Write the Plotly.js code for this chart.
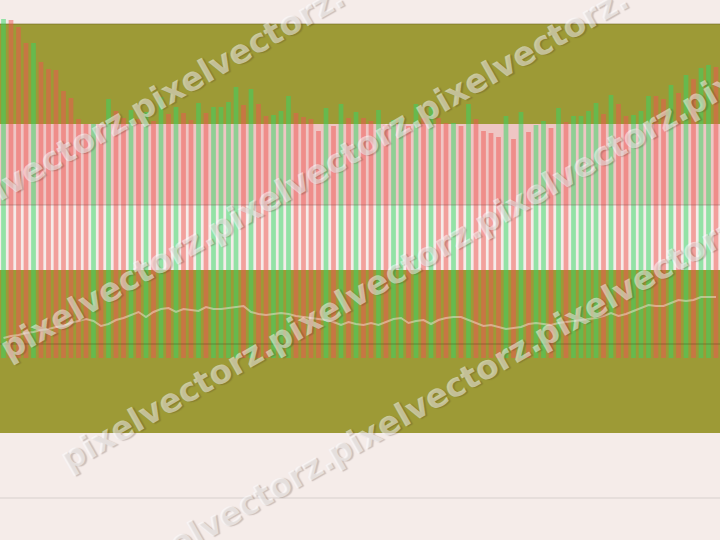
<!DOCTYPE html>
<html><head><meta charset="utf-8">
<script src="https://cdn.plot.ly/plotly-3.0.1.min.js"></script>
<style>html,body{margin:0;padding:0;background:#f5ece9;}</style>
</head><body><div id="chart" style="width:720px;height:540px;"></div>
<script>
// Volume per session
const volumes = [3390,3380,3310,3150,3150,2960,2890,2880,2670,2600,
 2390,2340,2340,2330,2590,2470,2400,2480,2390,2460,
 2370,2610,2440,2510,2450,2380,2550,2450,2510,2510,
 2560,2710,2530,2690,2540,2420,2430,2470,2620,2450,
 2410,2390,2270,2500,2320,2540,2400,2460,2400,2370,
 2480,2330,2380,2400,2320,2540,2400,2510,2400,2350,
 2350,2320,2540,2390,2270,2250,2210,2420,2190,2460,
 2260,2330,2370,2300,2500,2360,2420,2420,2470,2550,
 2440,2630,2540,2420,2430,2470,2620,2620,2590,2730,
 2650,2830,2790,2900,2930,2910];
// Session direction: U = up, D = down
const direction = ['U','D','D','D','U','D','D','D','D','D',
 'D','D','U','D','U','D','D','U','D','U',
 'D','U','D','U','D','D','U','D','U','U',
 'U','U','D','U','D','D','U','U','U','D',
 'D','D','D','U','D','U','D','U','D','D',
 'U','D','U','U','D','U','D','U','D','D',
 'U','D','U','D','D','D','D','U','D','U',
 'D','U','U','D','U','D','U','U','U','U',
 'D','U','D','D','U','U','U','D','D','U',
 'D','U','D','U','U','D'];
// Average price line
const avgPrice = [29.5,29.7,29.8,30.0,30.1,30.3,30.4,30.6,30.7,31.0,
 31.2,31.4,31.2,30.7,30.9,31.3,31.5,31.8,32.1,31.6,
 32.1,32.4,32.5,32.1,32.4,32.3,32.2,32.6,32.4,32.4,
 32.5,32.6,32.7,32.1,31.9,31.8,31.9,32.0,31.9,31.7,
 31.6,31.5,31.4,31.3,31.1,30.8,31.1,30.9,30.8,31.0,
 30.8,31.1,31.4,31.5,31.0,31.2,31.3,30.9,31.3,31.5,
 31.6,31.6,31.3,31.0,30.7,30.8,30.6,30.4,30.5,30.6,
 30.9,31.0,30.9,30.8,31.0,31.1,31.2,31.3,31.4,31.5,
 31.7,32.0,31.7,31.9,32.2,32.5,32.8,32.7,32.7,33.0,
 33.3,33.2,33.3,33.6,33.6,33.6];
const sessions = volumes.map((_, i) => i);
const watermarkText = 'pixelvectorz.';

const upColor = 'rgba(50,215,100,0.5)';
const downColor = 'rgba(239,83,80,0.5)';

const traces = [
  {type: 'bar', x: sessions, y: volumes, yaxis: 'y',
   marker: {color: direction.map(d => d === 'U' ? upColor : downColor), line: {width: 0}},
   hoverinfo: 'skip'},
  {type: 'scatter', mode: 'lines', x: sessions, y: avgPrice, yaxis: 'y2',
   line: {color: 'rgba(255,232,232,0.45)', width: 2}, hoverinfo: 'skip'}
];

function py(p) { return 1 - p / 540; }
const shapes = [
  {type: 'rect', xref: 'paper', yref: 'paper', x0: 0, x1: 1, y0: py(124), y1: py(24), fillcolor: '#9d9a36', line: {width: 0}, layer: 'below'},
  {type: 'rect', xref: 'paper', yref: 'paper', x0: 0, x1: 1, y0: py(205), y1: py(124), fillcolor: 'rgba(228,130,130,0.35)', line: {width: 0}, layer: 'below'},
  {type: 'rect', xref: 'paper', yref: 'paper', x0: 0, x1: 1, y0: py(433), y1: py(270), fillcolor: '#9d9a36', line: {width: 0}, layer: 'below'},
  {type: 'line', xref: 'paper', yref: 'paper', x0: 0, x1: 1, y0: py(24), y1: py(24), line: {color: 'rgba(110,105,30,0.6)', width: 1}, layer: 'below'},
  {type: 'line', xref: 'paper', yref: 'paper', x0: 0, x1: 1, y0: py(205), y1: py(205), line: {color: 'rgba(90,50,50,0.3)', width: 1}, layer: 'above'},
  {type: 'line', xref: 'paper', yref: 'paper', x0: 0, x1: 1, y0: py(344), y1: py(344), line: {color: 'rgba(60,50,20,0.35)', width: 1}, layer: 'above'},
  {type: 'line', xref: 'paper', yref: 'paper', x0: 0, x1: 1, y0: py(498), y1: py(498), line: {color: '#d8cfcd', width: 1.2}, layer: 'below'}
];

// watermark rows: line intercept and word start x positions (pixels)
const slope = 0.57;
const wmRows = [
  {b: 188, starts: [-74, 133]},
  {b: 352, starts: [3, 210, 417]},
  {b: 497, starts: [63, 270, 477, 684]},
  {b: 645, starts: [123, 330, 537]}
];
const annotations = [];
wmRows.forEach(r => {
  r.starts.forEach(s => {
    const cx = s + 103.5;
    const cy = r.b - slope * cx;
    annotations.push({
      xref: 'paper', yref: 'paper', x: cx / 720, y: py(cy),
      xanchor: 'center', yanchor: 'middle', showarrow: false,
      text: watermarkText, textangle: -29.7,
      font: {family: 'DejaVu Sans', size: 33, weight: 'bold', color: 'rgba(255,255,255,0.5)',
             shadow: '1.5px 1.5px 1px rgba(60,40,30,0.45)'}
    });
  });
});

const layout = {
  width: 720, height: 540,
  margin: {l: 0, r: 0, t: 0, b: 0, pad: 0},
  paper_bgcolor: '#f5ece9', plot_bgcolor: '#f5ece9',
  showlegend: false, bargap: 0.37, hovermode: false,
  xaxis: {range: [-0.4667, 95.5333], visible: false, fixedrange: true},
  yaxis: {range: [-1820, 3580], visible: false, fixedrange: true},
  yaxis2: {range: [9.3, 63.3], overlaying: 'y', visible: false, fixedrange: true},
  shapes: shapes,
  annotations: annotations
};

Plotly.newPlot('chart', traces, layout, {displayModeBar: false, staticPlot: true});
</script>
</body></html>
